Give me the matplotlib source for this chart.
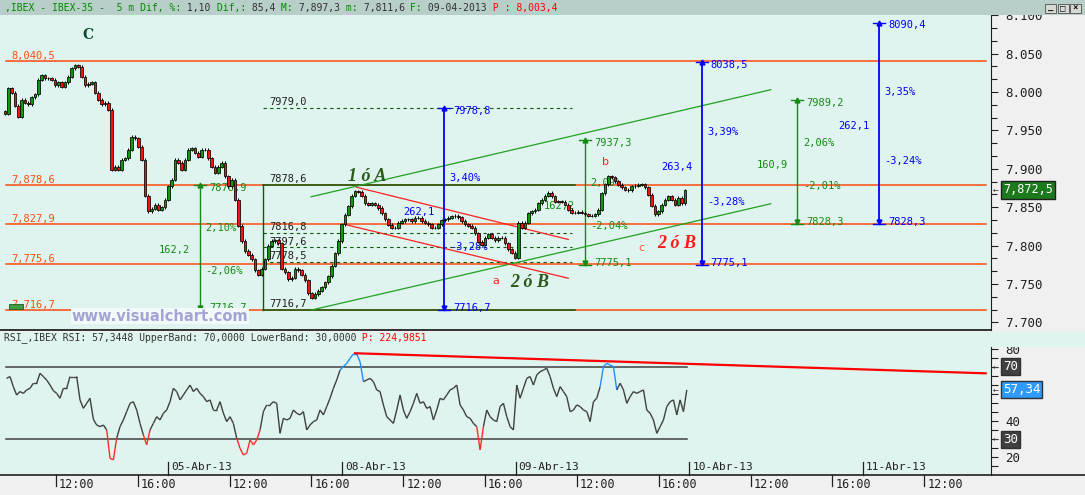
import matplotlib
matplotlib.use("Agg")
import matplotlib.pyplot as plt
import matplotlib.transforms as mtransforms
import matplotlib.ticker as mticker
from matplotlib.collections import LineCollection
from matplotlib.patches import Rectangle
import numpy as np

plt.rcParams["font.family"] = ["DejaVu Sans Mono"]

# x axis = trading hours since 04-Abr-13 09:00 (sessions 09:00-17:30, back to back)
day_labels = ["04-Abr-13", "05-Abr-13", "08-Abr-13", "09-Abr-13", "10-Abr-13", "11-Abr-13"]
session_hours = 8.5
tick_hours = [3, 7]          # 12:00 and 16:00
tick_names = ["12:00", "16:00"]

# IBEX-35, closes of the 10-minute candles
closes = [
    7972, 8005, 7999, 7982, 7968, 7990, 7986, 7984, 7993, 7997,
    8016, 8022, 8018, 8018, 8016, 8009, 8013, 8007, 8013, 8020,
    8031, 8035, 8033, 8020, 8009, 8011, 8013, 7999, 7990, 7984,
    7986, 7977, 7899, 7903, 7899, 7912, 7914, 7925, 7942, 7940,
    7929, 7912, 7865, 7845, 7848, 7853, 7847, 7850, 7860, 7877,
    7886, 7912, 7908, 7899, 7912, 7925, 7927, 7921, 7916, 7925,
    7925, 7914, 7903, 7895, 7903, 7908, 7890, 7877, 7886, 7860,
    7826, 7806, 7793, 7788, 7782, 7768, 7762, 7770, 7782, 7800,
    7806, 7807, 7803, 7770, 7765, 7756, 7758, 7770, 7768, 7762,
    7755, 7738, 7732, 7737, 7741, 7746, 7752, 7760, 7774, 7790,
    7806, 7828, 7840, 7851, 7865, 7871, 7870,
    7865, 7855, 7853, 7855, 7853, 7849, 7842, 7834, 7827, 7823,
    7823, 7830, 7832, 7834, 7834, 7832, 7836, 7836, 7832, 7830,
    7828, 7823, 7823, 7828, 7833, 7834, 7836, 7838, 7839, 7837,
    7832, 7828, 7826, 7823, 7816, 7805, 7801, 7810, 7815, 7810,
    7807, 7810, 7810, 7803, 7795, 7791, 7784, 7830, 7823, 7830,
    7842, 7845, 7847, 7855, 7860, 7865, 7869, 7864, 7857, 7858,
    7857, 7853, 7847, 7843, 7843, 7844, 7843, 7841, 7839, 7839,
    7841, 7847, 7868, 7880, 7890,
    7889, 7884, 7879, 7876, 7873, 7872, 7877, 7878, 7879, 7880,
    7876, 7866, 7852, 7841, 7845, 7853, 7860, 7864, 7860, 7853,
    7862, 7855, 7872,
]
first_open = 7975
bar_first, bar_last = 0.51, 33.79

rsi = [
    63.7, 64.7, 59.1, 54.5, 56.4, 55.4, 57.3, 58.2, 61.0, 61.0,
    66.5, 64.7, 62.8, 60.0, 56.9, 55.4, 52.7, 58.2, 58.2, 64.7,
    64.7, 64.7, 51.8, 47.1, 49.9, 52.7, 41.1, 37.9, 37.0, 37.9,
    35.2, 19.5, 18.6, 30.6, 37.0, 40.7, 45.3, 49.9, 50.8, 46.2,
    38.8, 32.4, 26.9, 35.2, 38.8, 42.5, 40.7, 44.4, 46.2, 50.8,
    58.2, 56.4, 51.8, 54.5, 57.3, 60.0, 56.4, 58.2, 55.4, 53.6,
    50.8, 51.8, 46.2, 46.2, 50.8, 44.4, 39.8, 42.5, 38.8, 30.6,
    25.0, 21.3, 22.3, 29.6, 26.9, 29.6, 35.2, 45.3, 49.0, 49.0,
    50.8, 49.9, 33.3, 41.6, 40.7, 41.6, 46.2, 44.4, 43.5, 45.3,
    35.2, 37.9, 39.8, 40.7, 46.2, 43.5, 48.1, 52.7, 58.2, 62.8,
    68.3, 70.2, 72.0, 74.8, 77.2, 77.2, 72.9,
    61.9, 62.8, 63.7, 61.9, 57.3, 56.4, 49.0, 42.5, 40.7, 38.8,
    46.2, 54.5, 46.2, 41.6, 45.3, 49.9, 55.4, 49.9, 50.8, 47.1,
    48.1, 40.7, 46.2, 52.7, 51.8, 54.5, 57.3, 58.2, 60.0, 49.0,
    46.2, 42.5, 41.6, 38.8, 37.0, 24.1, 37.0, 46.2, 42.5, 40.7,
    39.8, 48.1, 49.9, 42.5, 37.0, 35.2, 60.0, 52.7, 58.2, 63.7,
    64.7, 60.0, 65.6, 67.4, 68.3, 69.3, 64.7, 58.2, 53.6, 59.1,
    56.4, 53.6, 45.3, 46.2, 49.0, 48.1, 46.2, 45.3, 39.8, 50.8,
    52.7, 59.1, 70.2, 72.0, 71.1, 70.2, 57.3, 61.0, 57.3, 49.9,
    53.6, 56.4, 55.4, 56.4, 57.3, 46.2, 44.4, 40.7, 33.3, 37.0,
    40.7, 48.1, 50.8, 51.8, 43.5, 51.8, 45.3, 57.34,
]
rsi_first, rsi_last = 0.59, 33.88
rsi_upper, rsi_lower = 70, 30
rsi_trend = [77.6, 66.5]
rsi_trend_x = [17.64, 48.51]

# horizontal support/resistance levels
levels = [8040.5, 7878.6, 7827.9, 7775.6, 7716.7]
level_labels = ["8,040,5", "7,878,6", "7,827,9", "7,775,6", "7,716,7"]
# retracement box
box_hi, box_lo = 7878.6, 7716.7
box_x = [13.14, 28.41]
fib_levels = [7979.0, 7816.8, 7797.6, 7778.5]
fib_labels = ["7979,0", "7816,8", "7797,6", "7778,5"]
# channels
green_up = [7863.6, 8003.0]
green_dn = [7716.0, 7854.5]
green_x = [15.49, 37.99]
red_up = [7876.0, 7808.0]
red_dn = [7827.0, 7757.5]
red_up_x = [17.72, 28.08]
red_dn_x = [17.23, 28.08]
# measuring tools
measure_x = [10.05, 22.01, 28.90, 34.61, 39.29, 43.29]
measure_lo = [7716.7, 7716.7, 7775.1, 7775.1, 7828.3, 7828.3]
measure_hi = [7878.9, 7978.8, 7937.3, 8038.5, 7989.2, 8090.4]
measure_blue = [False, True, False, True, False, True]
measure_diff = ["162,2", "262,1", "162,2", "263,4", "160,9", "262,1"]
measure_up = ["2,10%", "3,40%", "2,09%", "3,39%", "2,06%", "3,35%"]
measure_dn = ["-2,06%", "-3,28%", "-2,04%", "-3,28%", "-2,01%", "-3,24%"]

last_price = 7872.5

MINT = "#dff4ee"
ORANGE = "#ff4a12"
GREEN = "#138a13"
BLUE = "#0000ff"
DKGREEN = "#0d5a0d"

W, H = 1085, 495
fig = plt.figure(figsize=(W / 100, H / 100), dpi=100)
fig.patch.set_facecolor("#f0f0f0")

xlim = (0.264, 48.77)
ax = fig.add_axes([0, 1 - 330 / H, 991 / W, 315 / H], facecolor=MINT)
axr = fig.add_axes([0, 1 - 475 / H, 991 / W, 143 / H], facecolor=MINT)

# ---------------- main price panel ----------------
ax.set_xlim(*xlim)
ax.set_ylim(7690.1, 8100.3)

t = np.linspace(bar_first, bar_last, len(closes))
c = np.array(closes, dtype=float)
o = np.concatenate([[first_open], c[:-1]])
cols = np.where(c >= o, "#0a9a0a", "#ff1010")
ax.vlines(t, np.minimum(o, c) - 2, np.maximum(o, c) + 2, color="black",
          lw=0.7, zorder=5)
ax.bar(t, c - o, bottom=o, width=0.13, color=cols, edgecolor="black",
       linewidth=0.55, zorder=5)

for lv, lab in zip(levels, level_labels):
    ax.plot([0.56, 48.53], [lv, lv], color=ORANGE, lw=1.1, zorder=2)
    ax.text(0.80, lv + 6.5, lab, color=ORANGE, fontsize=7.5, va="center", zorder=3)
ax.add_patch(Rectangle((0.70, 7717.5), 0.68, 7, facecolor="#3f9f3f",
                       edgecolor="#1d5a1d", lw=0.6, zorder=4))

# box + retracements
ax.plot([box_x[0], box_x[1]], [box_hi, box_hi], color=DKGREEN, lw=1.1, zorder=2.5)
ax.plot([box_x[0], box_x[1]], [box_lo, box_lo], color=DKGREEN, lw=1.1, zorder=2.5)
ax.plot([box_x[0], box_x[0]], [box_lo, box_hi], color=DKGREEN, lw=1.0, zorder=2.5)
for lv, lab in zip(fib_levels, fib_labels):
    ax.plot([box_x[0], 28.26], [lv, lv], color=DKGREEN, lw=0.8,
            dashes=(3, 3), zorder=2.5)
    ax.text(13.43, lv + 7.5, lab, color="#202020", fontsize=7.5, va="center", zorder=3)
ax.text(13.43, box_hi + 7.5, "7878,6", color="#202020", fontsize=7.5, va="center")
ax.text(13.43, box_lo + 7, "7716,7", color="#202020", fontsize=7.5, va="center", zorder=6)

# channels
ax.plot(green_x, green_up, color="#20a020", lw=0.9, zorder=2.5)
ax.plot(green_x, green_dn, color="#20a020", lw=0.9, zorder=2.5)
ax.plot(red_up_x, red_up, color="#ff2020", lw=0.9, zorder=2.5)
ax.plot(red_dn_x, red_dn, color="#ff2020", lw=0.9, zorder=2.5)

# measuring tools
for x, lo, hi, blue, d, up, dn in zip(measure_x, measure_lo, measure_hi,
                                      measure_blue, measure_diff, measure_up, measure_dn):
    col = BLUE if blue else GREEN
    lw = 1.3 if blue else 1.0
    ax.plot([x, x], [lo, hi], color=col, lw=lw, zorder=4)
    ax.plot([x - 0.3, x + 0.3], [hi, hi], color=col, lw=1.0, zorder=4)
    ax.plot([x - 0.3, x + 0.3], [lo, lo], color=col, lw=1.0, zorder=4)
    ax.plot([x], [hi], marker="^", ms=3.5, color=col, zorder=4)
    ax.plot([x], [lo + 2], marker="v", ms=3.5, color=col, zorder=4)
    ax.text(x + 0.44, hi - 3.5, f"{hi:.1f}".replace(".", ","), color=col,
            fontsize=7.5, va="center", zorder=4)
    ax.text(x + 0.44, lo + 2.5, f"{lo:.1f}".replace(".", ","), color=col,
            fontsize=7.5, va="center", zorder=4)
    mid = (hi + lo) / 2
    rng = hi - lo
    ax.text(x + 0.27, mid + 0.155 * rng, up, color=col, fontsize=7.5, va="center", zorder=4)
    ax.text(x + 0.27, mid - 0.19 * rng, dn, color=col, fontsize=7.5, va="center", zorder=4)
    ax.text(x - 2.0, mid - 4, d, color=col, fontsize=7.5, va="center", zorder=4)

# wave labels
ax.text(4.57, 8074, "C", color="#0b4a2a", fontsize=10, fontweight="bold",
        family="DejaVu Serif", ha="center", va="center")
wave = dict(family="Liberation Serif", style="italic", fontweight="bold",
            fontsize=13, ha="center", va="center", zorder=6)
ax.text(18.23, 7889.7, "1 ó A", color="#2a5a1a", **wave)
ax.text(26.21, 7751.7, "2 ó B", color="#2a5a1a", **wave)
ax.text(33.40, 7803.0, "2 ó B", color="#ff1a1a", **wave)
ax.text(24.54, 7754.3, "a", color="#ff2020", fontsize=8, family="DejaVu Sans",
        ha="center", va="center")
ax.text(29.88, 7909.2, "b", color="#ff2020", fontsize=8, family="DejaVu Sans",
        ha="center", va="center")
ax.text(31.67, 7796.5, "c", color="#ff5030", fontsize=8, family="DejaVu Sans",
        ha="center", va="center")
ax.text(8.1, 7708.3, "www.visualchart.com", color="#a4a4d4", fontsize=10.5,
        family="DejaVu Sans", fontweight="bold", ha="center", va="center", zorder=6,
        bbox=dict(facecolor="#f3f9f8", edgecolor="none", pad=0.5))

# price axis
ax.set_xticks([])
ax.yaxis.tick_right()
ax.set_yticks(np.arange(7700, 8101, 50))
ax.yaxis.set_minor_locator(mticker.MultipleLocator(50 / 3))
ax.yaxis.set_major_formatter(mticker.FuncFormatter(
    lambda v, _p: f"{v:,.0f}".replace(",", ".")))
ax.tick_params(axis="y", which="major", direction="out", length=5, width=0.8,
               labelsize=9, pad=5, colors="#202020")
ax.tick_params(axis="y", which="minor", direction="out", length=4, width=0.8,
               colors="#202020")
for s in ("left", "top"):
    ax.spines[s].set_visible(False)
ax.spines["right"].set_color("#202020")
ax.spines["bottom"].set_color("#101010")
ax.spines["bottom"].set_linewidth(1.2)

blend = mtransforms.blended_transform_factory(ax.transAxes, ax.transData)
ax.text(1.012, last_price, "7,872,5", transform=blend, color="white", fontsize=8.5,
        va="center", ha="left",
        bbox=dict(facecolor="#1c7a1c", edgecolor="#202020", pad=1.6))
ax.text(1.002, last_price, "←", transform=blend, color="#404040", fontsize=7,
        va="center", ha="left")

# ---------------- RSI panel ----------------
axr.set_xlim(*xlim)
axr.set_ylim(10.25, 89.35)
tr = np.linspace(rsi_first, rsi_last, len(rsi))
rv = np.array(rsi)
segs = [[(tr[i], rv[i]), (tr[i + 1], rv[i + 1])] for i in range(len(rv) - 1)]
seg_cols = []
for i in range(len(rv) - 1):
    a, b = rv[i], rv[i + 1]
    if max(a, b) > rsi_upper:
        seg_cols.append("#1e8fff")
    elif min(a, b) < rsi_lower:
        seg_cols.append("#ff2a2a")
    else:
        seg_cols.append("#404040")
axr.add_collection(LineCollection(segs, colors=seg_cols, linewidths=1.0, zorder=3))
for lv in (rsi_upper, rsi_lower):
    axr.plot([0.56, rsi_last], [lv, lv], color="#404040", lw=1.1, zorder=2)
axr.plot(rsi_trend_x, rsi_trend, color="#ff0000", lw=1.6, zorder=3)

hdr_y = 1 - (338 - 332) / 143
h1 = axr.text(0.004, hdr_y, "RSI_,IBEX RSI: 57,3448 UpperBand: 70,0000 LowerBand: 30,0000",
              transform=axr.transAxes, fontsize=7, color="#333333", va="center")
axr.annotate(" P: 224,9851", xy=(1, 0), xycoords=h1, va="bottom", ha="left",
             fontsize=7, color="#ff0000")

axr.set_xticks([])
axr.yaxis.tick_right()
axr.set_yticks([20, 30, 40, 50, 60, 70, 80])
axr.set_yticklabels(["20", "", "40", "", "60", "", "80"])
axr.yaxis.set_minor_locator(mticker.FixedLocator([15, 25, 35, 45, 55, 65, 75]))
axr.tick_params(axis="y", which="both", direction="out", length=5, width=0.8,
                labelsize=9, pad=5, colors="#202020")
for s in ("left", "top", "bottom"):
    axr.spines[s].set_visible(False)
axr.spines["right"].set_bounds(10.25, 81)
axr.spines["right"].set_color("#202020")

blend_r = mtransforms.blended_transform_factory(axr.transAxes, axr.transData)
for val, lab, fc in ((70, "70", "#404040"), (30, "30", "#404040"), (57.34, "57,34", "#2f9bff")):
    axr.text(1.012, val, lab, transform=blend_r, color="white", fontsize=9,
             va="center", ha="left", zorder=10,
             bbox=dict(facecolor=fc, edgecolor="#303030", pad=1.4))
    axr.text(1.002, val, "←", transform=blend_r, color="#404040", fontsize=7,
             va="center", ha="left")

# time axis (drawn below the RSI panel)
bl = mtransforms.blended_transform_factory(axr.transData, axr.transAxes)
for k, lab in enumerate(day_labels):
    d = k * session_hours
    if xlim[0] < d < xlim[1]:
        axr.plot([d, d], [0, 13 / 143], color="#202020", lw=0.9, transform=bl,
                 clip_on=False)
        axr.text(d + 0.15, 8.3 / 143, lab, transform=bl, fontsize=8,
                 color="#202020", va="center", ha="left")
    for th, tn in zip(tick_hours, tick_names):
        x = d + th
        if xlim[0] < x < xlim[1]:
            axr.plot([x, x], [0, -11 / 143], color="#202020", lw=0.9, transform=bl,
                     clip_on=False)
            axr.text(x + 0.15, -10 / 143, tn, transform=bl, fontsize=8.5,
                     color="#202020", va="center", ha="left")

# figure furniture
fig.add_artist(plt.Line2D([0, 1], [1 - 475 / H] * 2, color="#202020", lw=1.2))
fig.add_artist(Rectangle((991 / W, 1 - 347 / H), 94 / W, 15 / H, facecolor=MINT,
                         edgecolor="none", transform=fig.transFigure, zorder=1))
bar = fig.add_axes([0, 1 - 15 / H, 1, 15 / H], facecolor="#b8cec8")
bar.set_xlim(0, W)
bar.set_ylim(15, 0)
bar.axis("off")
bar.add_patch(Rectangle((0, 0), W, 15, facecolor="#b8cec8", edgecolor="none"))

parts = [(",IBEX - IBEX-35 -  5 m Dif, %:", "#008a00"), (" 1,10", "#303030"),
         (" Dif,:", "#008a00"), (" 85,4", "#303030"), (" M:", "#008a00"),
         (" 7,897,3", "#303030"), (" m:", "#008a00"), (" 7,811,6", "#303030"),
         (" F:", "#008a00"), (" 09-04-2013", "#303030"), (" P : 8,003,4", "#ff0000")]
prev = bar.text(5, 8, parts[0][0], color=parts[0][1], fontsize=7, va="center")
for txt, col in parts[1:]:
    prev = bar.annotate(txt, xy=(1, 0), xycoords=prev, va="bottom", ha="left",
                        fontsize=7, color=col)


def buttons(axh, y0):
    for i, g in enumerate(["_", "□", "×"]):
        x0 = 1045 + i * 12.5
        axh.add_patch(Rectangle((x0, y0), 11, 9, facecolor="#d8d8d4",
                                edgecolor="#505050", lw=0.6, clip_on=False))
        axh.text(x0 + 5.5, y0 + 4.3, g, fontsize=6.5, ha="center", va="center",
                 color="#101010", fontweight="bold", clip_on=False)


buttons(bar, 3.5)
hdr = fig.add_axes([0, 1 - 347 / H, 1, 15 / H], facecolor="none")
hdr.set_xlim(0, W)
hdr.set_ylim(15, 0)
hdr.axis("off")
buttons(hdr, 4)

fig.savefig("out.png", dpi=100, facecolor=fig.get_facecolor())
